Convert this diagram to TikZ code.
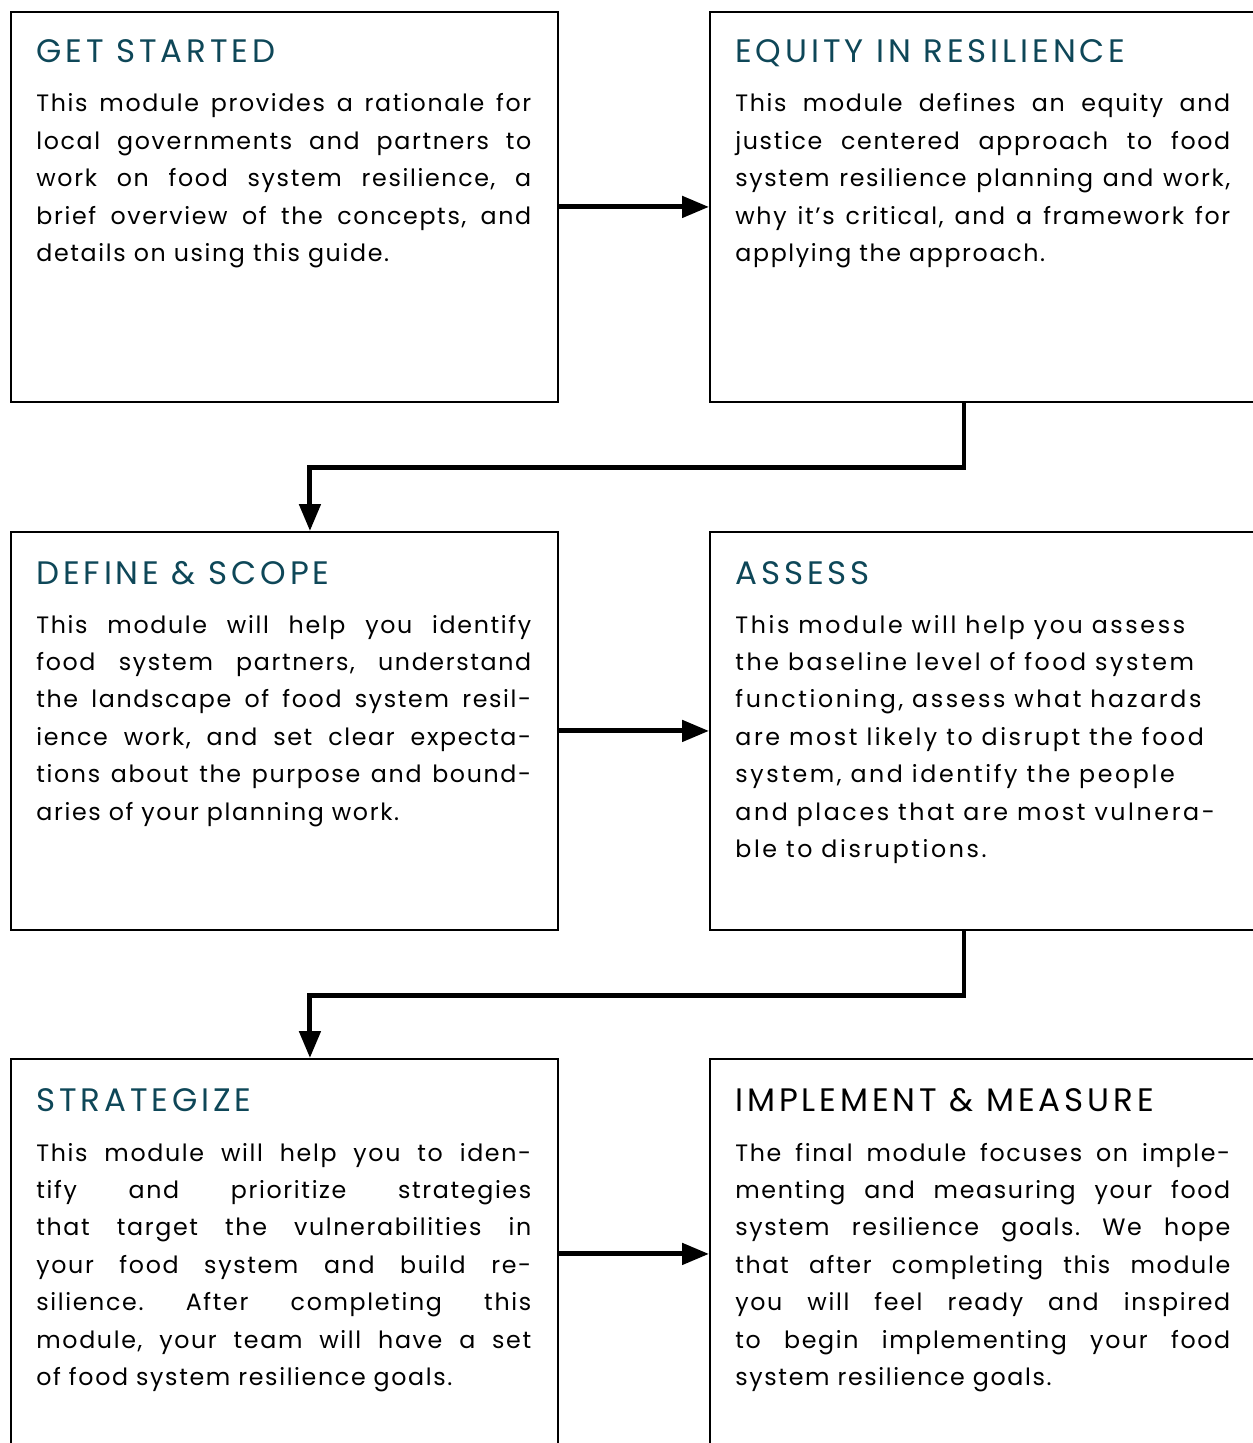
\documentclass[tikz,border=0pt]{standalone}
\usepackage{fontspec}
\usepackage{xcolor}
\setmainfont{Poppins}
\newfontfamily\headfont[LetterSpace=12]{Poppins}
\newfontfamily\bodyfont[LetterSpace=7]{Poppins}
\newfontfamily\raggedfont[LetterSpace=11]{Poppins}
\definecolor{headteal}{HTML}{0E4758}
\usetikzlibrary{arrows.meta,positioning}
\hyphenpenalty=10000
\tolerance=10000
\frenchspacing

\begin{document}
\begin{tikzpicture}[x=0.02cm,y=0.02cm,
		lbox/.style={draw,line width=1.1pt,anchor=north west,inner sep=0,minimum width=10.94cm},
		rbox/.style={lbox,minimum width=11.12cm},
		head/.style={anchor=base west,inner sep=0,text=headteal,font=\headfont\fontsize{18.5}{20}\selectfont},
		body/.style={anchor=base west,inner sep=0,text width=9.9cm,align=justify,
			font=\bodyfont\fontsize{13.5}{21.3}\selectfont},
		loose/.style={body,font=\raggedfont\fontsize{13.5}{21.3}\selectfont},
		flow/.style={line width=2.8pt,-{Triangle[length=0.54cm,width=0.42cm]}}]
	\useasboundingbox (0,0) rectangle (1252,-1443);
	% boxes
	\node[lbox,minimum height=7.8cm] (start) at (10,-11) {};
	\node[rbox,minimum height=7.8cm] (equity) at (709,-11) {};
	\node[lbox,minimum height=7.96cm] (scope) at (10,-531) {};
	\node[rbox,minimum height=7.96cm] (assess) at (709,-531) {};
	\node[lbox,minimum height=7.8cm] (strat) at (10,-1058) {};
	\node[rbox,minimum height=7.8cm] (impl) at (709,-1058) {};
	% titles
	\node[head] (startT) at ([shift={(26,-52)}]start.north west) {GET STARTED};
	\node[head] (equityT) at ([shift={(26,-52)}]equity.north west) {EQUITY IN RESILIENCE};
	\node[head] (scopeT) at ([shift={(26,-53)}]scope.north west) {DEFINE \& SCOPE};
	\node[head] (assessT) at ([shift={(26,-53)}]assess.north west) {ASSESS};
	\node[head] (stratT) at ([shift={(26,-53)}]strat.north west) {STRATEGIZE};
	\node[head,text=black] (implT) at ([shift={(26,-53)}]impl.north west) {IMPLEMENT \& MEASURE};
	% texts
	\node[body] (startB) at ([shift={(26,-101)}]start.north west) {This module provides a rationale for\linebreak
		local governments and partners to\linebreak
		work on food system resilience, a\linebreak
		brief overview of the concepts, and\linebreak
		details on using this guide.};
	\node[body] (equityB) at ([shift={(26,-101)}]equity.north west) {This module defines an equity and\linebreak
		justice centered approach to food\linebreak
		system resilience planning and work,\linebreak
		why it’s critical, and a framework for\linebreak
		applying the approach.};
	\node[body] (scopeB) at ([shift={(26,-102)}]scope.north west) {This module will help you identify\linebreak
		food system partners, understand\linebreak
		the landscape of food system resil-\linebreak
		ience work, and set clear expecta-\linebreak
		tions about the purpose and bound-\linebreak
		aries of your planning work.};
	\node[loose] (assessB) at ([shift={(26,-102)}]assess.north west) {This module will help you assess\hfill\mbox{}\linebreak
		the baseline level of food system\hfill\mbox{}\linebreak
		functioning, assess what hazards\hfill\mbox{}\linebreak
		are most likely to disrupt the food\hfill\mbox{}\linebreak
		system, and identify the people\hfill\mbox{}\linebreak
		and places that are most vulnera-\hfill\mbox{}\linebreak
		ble to disruptions.};
	\node[body] (stratB) at ([shift={(26,-103)}]strat.north west) {This module will help you to iden-\linebreak
		tify and prioritize strategies\linebreak
		that target the vulnerabilities in\linebreak
		your food system and build re-\linebreak
		silience. After completing this\linebreak
		module, your team will have a set\linebreak
		of food system resilience goals.};
	\node[body] (implB) at ([shift={(26,-103)}]impl.north west) {The final module focuses on imple-\linebreak
		menting and measuring your food\linebreak
		system resilience goals. We hope\linebreak
		that after completing this module\linebreak
		you will feel ready and inspired\linebreak
		to begin implementing your food\linebreak
		system resilience goals.};
	% arrows
	\draw[flow] (start.east) -- (equity.west);
	\draw[flow] ([xshift=5.1cm]equity.south west) -- ++(0,-65) -| ([xshift=6cm]scope.north west);
	\draw[flow] (scope.east) -- (assess.west);
	\draw[flow] ([xshift=5.1cm]assess.south west) -- ++(0,-65) -| ([xshift=6cm]strat.north west);
	\draw[flow] (strat.east) -- (impl.west);
\end{tikzpicture}
\end{document}
